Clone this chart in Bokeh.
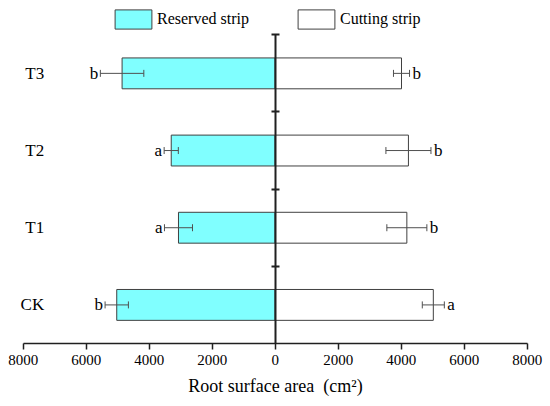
from bokeh.plotting import figure
from bokeh.models import (ColumnDataSource, Range1d, LinearAxis, FixedTicker, CustomJSTickFormatter,
                          Whisker, TeeHead, Legend, LegendItem)
from bokeh.core.properties import value
from bokeh.embed import file_html
from bokeh.resources import INLINE

categories = ["CK", "T1", "T2", "T3"]
reserved = [5030, 3070, 3300, 4860]
reserved_err = [370, 445, 225, 690]
cutting = [5020, 4180, 4230, 4010]
cutting_err = [350, 635, 715, 255]
reserved_letters = ["b", "a", "a", "b"]
cutting_letters = ["a", "b", "b", "b"]
x_ticks = [-8000, -6000, -4000, -2000, 0, 2000, 4000, 6000, 8000]

FONT = '"Liberation Serif"'
ypos = [i + 0.5 for i in range(len(categories))]
ncat = len(categories)

src = ColumnDataSource(dict(
    y=ypos, cat=categories,
    res_left=[-v for v in reserved],
    res_lo=[-(v + e) for v, e in zip(reserved, reserved_err)],
    res_hi=[-(v - e) for v, e in zip(reserved, reserved_err)],
    cut=cutting,
    cut_lo=[v - e for v, e in zip(cutting, cutting_err)],
    cut_hi=[v + e for v, e in zip(cutting, cutting_err)],
    res_let=reserved_letters, cut_let=cutting_letters,
))

# frame is wider/taller than the axes so the labels and legend sit inside it
p = figure(width=550, height=406, output_backend="svg", toolbar_location=None,
           x_range=Range1d(-8720, 8740), y_range=Range1d(0, ncat + 0.444),
           y_axis_location=None, min_border_left=0, min_border_right=0,
           min_border_top=0, min_border_bottom=63)
p.outline_line_color = None
p.xgrid.visible = False
p.ygrid.visible = False

r_res = p.hbar(y="y", left="res_left", right=0, height=0.4, source=src,
               fill_color="#80FFFF", line_color="#404040", line_width=1)
r_cut = p.hbar(y="y", left=0, right="cut", height=0.4, source=src,
               fill_color="white", line_color="#404040", line_width=1)

wcol = "#505050"
for lo, hi in (("res_lo", "res_hi"), ("cut_lo", "cut_hi")):
    w = Whisker(source=src, base="y", lower=lo, upper=hi, dimension="width",
                line_color=wcol, line_width=1, level="overlay",
                lower_head=TeeHead(size=7, line_color=wcol, line_width=1),
                upper_head=TeeHead(size=7, line_color=wcol, line_width=1))
    p.add_layout(w)

p.text(x="res_lo", y="y", text="res_let", source=src, x_offset=-2,
       text_align="right", text_baseline="middle", text_font=value(FONT),
       text_font_size="17px", text_color="black")
p.text(x="cut_hi", y="y", text="cut_let", source=src, x_offset=3,
       text_align="left", text_baseline="middle", text_font=value(FONT),
       text_font_size="17px", text_color="black")

# category labels at the left inside the plot
p.text(x=x_ticks[0], y="y", text="cat", source=src, x_offset=21,
       text_align="right", text_baseline="middle", text_font=value(FONT),
       text_font_size="17px", text_color="black")

# x axis
xa = p.xaxis[0]
xa.bounds = (x_ticks[0], x_ticks[-1])
xa.ticker = FixedTicker(ticks=x_ticks)
xa.major_label_overrides = {t: str(abs(t)) for t in x_ticks}
xa.axis_label = "Root surface area\u00a0\u00a0(cm\u00b2)"
xa.axis_label_text_font = FONT
xa.axis_label_text_font_style = "normal"
xa.axis_label_text_font_size = "18px"
xa.axis_label_text_color = "black"
xa.axis_label_standoff = 8
xa.major_label_text_font = FONT
xa.major_label_text_font_size = "15px"
xa.major_label_text_color = "black"
xa.major_label_standoff = 5
xa.axis_line_color = "#202020"
xa.axis_line_width = 1.5
xa.major_tick_line_color = "#202020"
xa.major_tick_line_width = 1.5
xa.major_tick_in = 0
xa.major_tick_out = 6
xa.minor_tick_line_color = None

# central vertical axis at x = 0
ya = LinearAxis(fixed_location=0, ticker=FixedTicker(ticks=list(range(1, ncat + 1))),
                formatter=CustomJSTickFormatter(code="return ''"), bounds=(0, ncat))
ya.axis_line_color = "#202020"
ya.axis_line_width = 2
ya.major_tick_line_color = "#202020"
ya.major_tick_line_width = 2
ya.major_tick_in = 4
ya.major_tick_out = 4
ya.minor_tick_line_color = None
ya.major_label_standoff = 0
p.add_layout(ya, "left")

legend = Legend(items=[LegendItem(label="Reserved strip", renderers=[r_res]),
                       LegendItem(label="Cutting strip", renderers=[r_cut])],
                orientation="horizontal", location=(110, 312),
                glyph_width=46, glyph_height=24, label_standoff=1, spacing=44,
                padding=0, margin=0, background_fill_alpha=0, border_line_color=None,
                label_text_font=FONT, label_text_font_size="16px", label_text_color="black")
p.add_layout(legend, "center")

open("out.html", "w").write(file_html(p, INLINE))
